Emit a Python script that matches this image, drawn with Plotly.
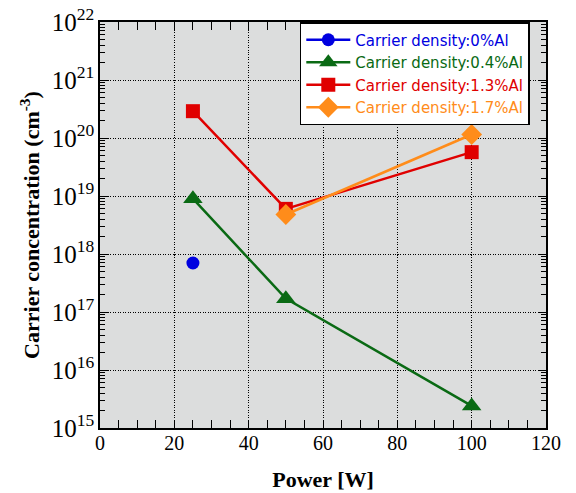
import plotly.graph_objects as go

power_blue = [25]
dens_blue = [7e17]
power_green = [25, 50, 100]
dens_green = [9e18, 1.7e17, 2.4e15]
power_red = [25, 50, 100]
dens_red = [2.9e20, 6e18, 5.7e19]
power_orange = [50, 100]
dens_orange = [4.8e18, 1.15e20]

names = ["Carrier density:0%Al", "Carrier density:0.4%Al",
         "Carrier density:1.3%Al", "Carrier density:1.7%Al"]
colors = ["#0000e0", "#0a6a14", "#e00000", "#ff8c1a"]

y_decades = list(range(15, 22))
minor_vals = [float(m) * 10.0 ** d for d in y_decades for m in range(2, 10)]

fig = go.Figure()
series = [
    (power_blue, dens_blue, "circle", 13),
    (power_green, dens_green, "triangle-up", 17),
    (power_red, dens_red, "square", 14),
    (power_orange, dens_orange, "diamond", 16),
]
for (x, y, sym, sz), name, c in zip(series, names, colors):
    fig.add_trace(go.Scatter(
        x=x, y=y, mode="lines+markers",
        name=f"<span style='color:{c}'>{name}</span>",
        line=dict(color=c, width=2.5),
        marker=dict(symbol=sym, size=sz, color=c),
    ))

# invisible trace to activate the minor-tick overlay axis
fig.add_trace(go.Scatter(x=[None], y=[None], yaxis="y2", showlegend=False,
                         hoverinfo="skip"))

axis_common = dict(
    showline=True, linecolor="black", linewidth=1.5, mirror="allticks",
    ticks="inside", ticklen=8, tickcolor="black",
    showgrid=True, gridcolor="black", griddash="1px,1.5px", gridwidth=1,
    zeroline=False, automargin=False,
    tickfont=dict(family="Liberation Serif", size=20, color="black"),
)

fig.update_layout(
    width=576, height=493,
    margin=dict(l=100, r=30, t=22, b=65),
    paper_bgcolor="white", plot_bgcolor="#dcdddd",
    xaxis=dict(range=[0, 120], dtick=20,
               minor=dict(dtick=5, ticks="inside", ticklen=5, tickcolor="black", showgrid=False),
               ticklabelstandoff=-4,
               title=dict(text="<b>Power [W]</b>", standoff=19,
                          font=dict(family="Liberation Serif", size=22, color="black")),
               **axis_common),
    yaxis=dict(type="log", range=[15, 22], dtick=1, exponentformat="power",
               title=dict(text="<b>Carrier concentration (cm<sup>-3</sup>)</b>", standoff=6,
                          font=dict(family="Liberation Serif", size=22, color="black")),
               **axis_common),
    yaxis2=dict(type="log", range=[15, 22], overlaying="y", side="left",
                tickvals=minor_vals, ticks="inside", ticklen=5, tickcolor="black",
                showticklabels=False, showgrid=False, zeroline=False,
                showline=False, mirror="ticks", automargin=False),
    legend=dict(x=0.448, y=1.0, xanchor="left", yanchor="top",
                bgcolor="white", bordercolor="black", borderwidth=1.5,
                font=dict(family="DejaVu Sans", size=15),
                itemwidth=44, tracegroupgap=0),
    showlegend=True,
)

fig.write_html("out.html")
